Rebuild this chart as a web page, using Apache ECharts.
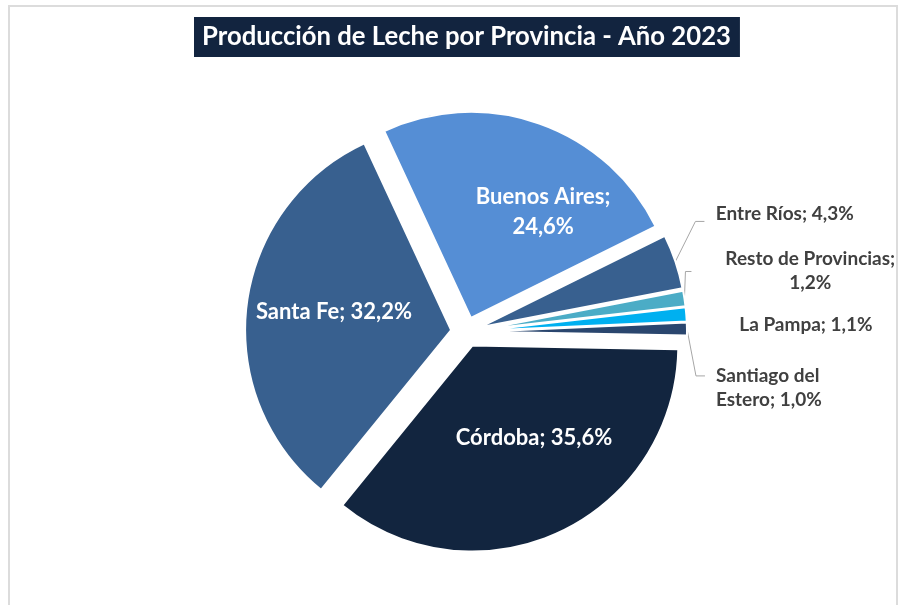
<!DOCTYPE html>
<html>
<head>
<meta charset="utf-8">
<script src="https://cdn.jsdelivr.net/npm/echarts@6/dist/echarts.min.js"></script>
<style>
html, body { margin: 0; padding: 0; background: #fff; }
#frame { position: absolute; left: 8px; top: 5px; width: 890px; height: 640px; border: 2px solid #dcdcdc; box-sizing: border-box; }
#chart0 { position: absolute; left: 0; top: 0; width: 914px; height: 605px; }
</style>
</head>
<body>
<div id="frame"></div>
<div id="chart0"></div>
<script>
'use strict';

// produccion de leche por provincia (% del total), 2023
var provincias = ['Córdoba', 'Santa Fe', 'Buenos Aires', 'Entre Ríos', 'Resto de Provincias', 'La Pampa', 'Santiago del Estero'];
var participacion = [35.6, 32.2, 24.6, 4.3, 1.2, 1.1, 1.0];
var colores = ['#12253f', '#38608f', '#558ed5', '#38608f', '#4bacc6', '#00b0f0', '#2a466e'];

// nudges for the labels (px), like the hand-placed labels of the original
var label_dx = [17, -12, 37, 14, 99, 26, 2];
var label_dy = [-4, -5, -6, -44, -26, 11, 59];
// leader line bends, relative to where the line leaves the slice: [bend x, bend y, end x]
var guia = [null, null, null, [20, -40, 29], [1, -27, 7], null, [9, 47, 18]];

var chart0 = echarts.init(document.getElementById('chart0'));

var label_in = {
	position : 'inside',
	color : '#ffffff',
	fontFamily : 'Lato',
	fontSize : 22,
	fontWeight : 'bold',
	lineHeight : 30
};
var label_out = {
	position : 'outside',
	color : '#404040',
	fontFamily : 'Lato',
	fontSize : 19,
	fontWeight : 'bold',
	lineHeight : 24
};

var data = [];
for (var i = 0; i < provincias.length; i++) {
	var item = {
		name : provincias[i],
		value : participacion[i],
		selected : true,
		itemStyle : {
			color : colores[i]
		},
		label : i < 3 ? label_in : label_out
	};
	if (provincias[i] == 'La Pampa') {
		item.labelLine = {
			show : false
		};
	}
	data.push(item);
}

chart0.setOption({
	animation : false,
	title : {
		text : 'Producción de Leche por Provincia - Año 2023',
		left : 194,
		top : 17,
		backgroundColor : '#12243f',
		padding : [ 5, 9, 5, 8 ],
		textStyle : {
			color : '#ffffff',
			fontFamily : 'Lato',
			fontSize : 25.7,
			fontWeight : 'bold',
			lineHeight : 30
		}
	},
	series : [ {
		type : 'pie',
		center : [ 466, 332 ],
		radius : 206,
		startAngle : -1,
		clockwise : true,
		selectedMode : 'multiple',
		selectedOffset : 15,
		avoidLabelOverlap : false,
		emphasis : {
			disabled : true
		},
		itemStyle : {
			borderColor : '#ffffff',
			borderWidth : 2
		},
		label : {
			formatter : function(p) {
				var v = p.value.toFixed(1).replace('.', ',') + '%';
				if (p.name == 'Santiago del Estero') {
					return 'Santiago del\nEstero; ' + v;
				}
				if (p.name == 'Buenos Aires' || p.name == 'Resto de Provincias') {
					return p.name + ';\n' + v;
				}
				return p.name + '; ' + v;
			}
		},
		labelLine : {
			length : 12,
			length2 : 10,
			lineStyle : {
				color : '#a6a6a6',
				width : 1
			}
		},
		labelLayout : function(p) {
			var idx = p.dataIndex;
			var res = {
				dx : label_dx[idx],
				dy : label_dy[idx]
			};
			if (provincias[idx] == 'Resto de Provincias') {
				res.align = 'center';
			}
			var pts = p.labelLinePoints;
			if (guia[idx] && pts) {
				var s = pts[0];
				var g = guia[idx];
				res.labelLinePoints = [ [ s[0], s[1] ], [ s[0] + g[0], s[1] + g[1] ], [ s[0] + g[2], s[1] + g[1] ] ];
			}
			return res;
		},
		data : data
	} ]
});
</script>
</body>
</html>
